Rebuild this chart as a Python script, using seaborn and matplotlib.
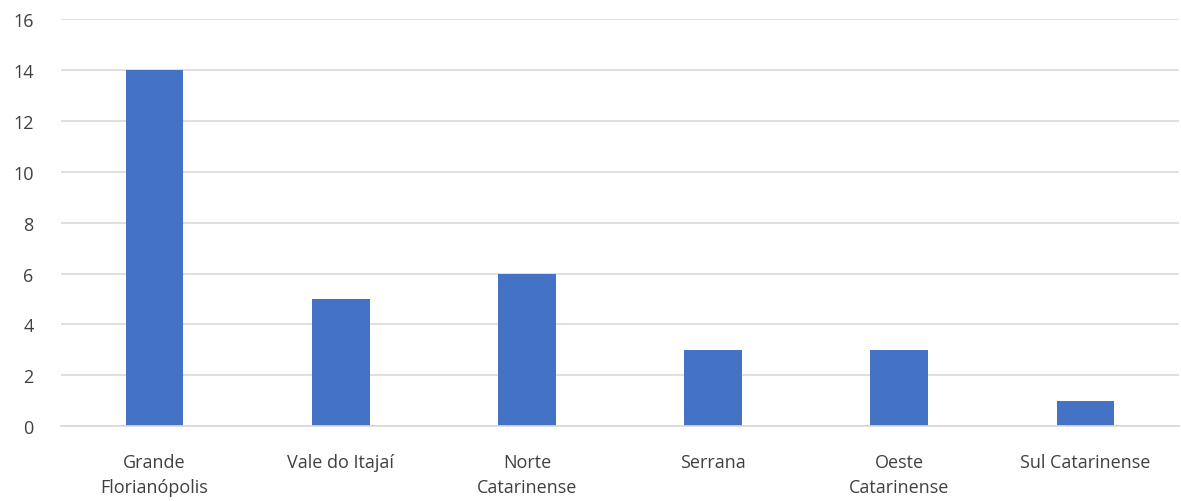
import pandas as pd
import matplotlib
matplotlib.use("Agg")
import matplotlib.pyplot as plt
import seaborn as sns

# data
regions = ["Grande\nFlorianópolis", "Vale do Itajaí", "Norte\nCatarinense",
           "Serrana", "Oeste\nCatarinense", "Sul Catarinense"]
counts = [14, 5, 6, 3, 3, 1]
y_ticks = [0, 2, 4, 6, 8, 10, 12, 14, 16]

df = pd.DataFrame({"regiao": regions, "total": counts})

sns.set_theme(style="white")
plt.rcParams["font.family"] = ["Open Sans", "DejaVu Sans"]

fig = plt.figure(figsize=(11.81, 5.02), dpi=100)
ax = fig.add_axes([0.052, 0.149, 0.946, 0.811])

sns.barplot(data=df, x="regiao", y="total", color="#4472C4",
            width=0.31, saturation=1, linewidth=0, ax=ax)

ax.set_ylim(0, 16)
ax.set_yticks(y_ticks)
ax.set_xlim(-0.5, len(regions) - 0.5)
ax.yaxis.grid(True, color="#D9D9D9", linewidth=1.2)
ax.set_axisbelow(True)
for side in ["top", "right", "left"]:
    ax.spines[side].set_visible(False)
ax.spines["bottom"].set_color("#D9D9D9")
ax.spines["bottom"].set_linewidth(1.2)
ax.tick_params(axis="both", length=0, labelsize=13, colors="#404040")
ax.tick_params(axis="x", pad=19)
ax.tick_params(axis="y", pad=20)
for lbl in ax.get_xticklabels():
    lbl.set_linespacing(1.55)
ax.set_xlabel("")
ax.set_ylabel("")

fig.savefig("out.png", dpi=100)
